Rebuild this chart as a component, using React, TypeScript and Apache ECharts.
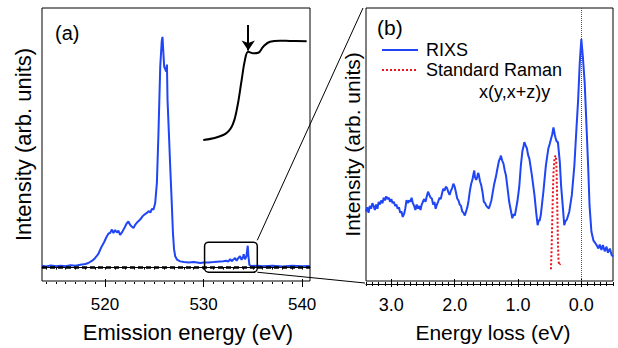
import React, { useEffect, useRef } from 'react';
import * as echarts from 'echarts';

// ---------- Panel (a): emission spectrum ----------
const emissionEnergy = [
  513.6, 514.0, 514.5, 515.0, 515.5, 516.0, 516.5, 517.0, 517.5, 518.0, 518.3, 518.7, 519.0, 519.3,
  519.66, 519.9, 520.17, 520.35, 520.51, 520.7, 520.85, 521.02, 521.2, 521.35, 521.53, 521.75, 522.0,
  522.2, 522.37, 522.55, 522.7, 522.88, 523.05, 523.3, 523.56, 523.8, 524.0, 524.24, 524.45, 524.6,
  524.75, 524.91, 525.09, 525.26, 525.42, 525.6, 525.75, 525.83, 525.92, 526.0, 526.1, 526.21, 526.28,
  526.34, 526.5, 526.61, 526.75, 526.89, 527.0, 527.12, 527.3, 527.63, 528.0, 528.5, 529.0, 529.66,
  530.0, 530.5, 531.0, 531.7, 532.0, 532.3, 532.5, 532.7, 532.85, 533.0, 533.2, 533.35, 533.5, 533.7,
  533.85, 534.0, 534.07, 534.2, 534.35, 534.48, 534.55, 534.65, 534.8, 535.5, 536.0, 537.0, 538.0,
  539.0, 540.0, 540.8,
];
const emissionIntensity = [
  0.008, 0.005, 0.009, 0.006, 0.008, 0.006, 0.01, 0.008, 0.012, 0.016, 0.02, 0.03, 0.042, 0.058,
  0.092, 0.11, 0.135, 0.148, 0.15, 0.165, 0.15, 0.163, 0.152, 0.16, 0.142, 0.155, 0.175,
  0.192, 0.2, 0.185, 0.178, 0.172, 0.185, 0.198, 0.208, 0.222, 0.23, 0.237, 0.245, 0.238,
  0.255, 0.251, 0.28, 0.367, 0.583, 0.871, 0.98, 1.0, 0.93, 0.871, 0.86, 0.85, 0.88,
  0.727, 0.56, 0.439, 0.3, 0.15, 0.08, 0.049, 0.035, 0.027, 0.024, 0.022, 0.024, 0.02,
  0.022, 0.022, 0.024, 0.027, 0.028, 0.03, 0.026, 0.037, 0.028, 0.034, 0.042, 0.03, 0.04, 0.05,
  0.034, 0.045, 0.058, 0.036, 0.05, 0.095, 0.05, 0.012, 0.007, 0.008, 0.006, 0.008, 0.005,
  0.008, 0.006, 0.007,
];
const emissionTickLabels = [520, 530, 540];
const emissionMinorTicks = [
  514, 515, 516, 517, 518, 519, 520, 521, 522, 523, 524, 525, 526, 527, 528, 529, 530, 531, 532, 533,
  534, 535, 536, 537, 538, 539, 540,
];
const baselineLevel = -0.004;
const zoomBoxEnergy = [530.1, 535.45];
const zoomBoxIntensity = [-0.02, 0.11];

// ---------- Inset: absorption edge ----------
const xasEnergy = [528.03, 530.34, 531.31, 531.89, 532.46, 532.84, 533.22, 533.8, 534.38, 534.95, 535.73, 536.88, 538.03, 539.96];
const xasIntensity = [0.05, 0.1, 0.183, 0.35, 0.65, 0.85, 0.933, 0.917, 0.923, 0.983, 1.033, 1.043, 1.04, 1.037];
const arrowEnergy = 533.22;
const arrowRange = [1.2, 0.945];

// ---------- Panel (b): RIXS ----------
const lossEnergy = [
  3.4, 3.38, 3.36, 3.34, 3.32, 3.3, 3.28, 3.26, 3.24, 3.22, 3.2, 3.18, 3.16, 3.14, 3.12, 3.1, 3.08,
  3.06, 3.04, 3.02, 3.0, 2.98, 2.96, 2.94, 2.92, 2.9, 2.88, 2.86, 2.84, 2.82, 2.8, 2.78, 2.76, 2.74,
  2.72, 2.7, 2.68, 2.66, 2.64, 2.62, 2.6, 2.58, 2.56, 2.54, 2.52, 2.5, 2.48, 2.46, 2.44, 2.42, 2.4,
  2.38, 2.36, 2.34, 2.32, 2.3, 2.28, 2.26, 2.24, 2.22, 2.2, 2.18, 2.16, 2.14, 2.12, 2.1, 2.08, 2.06,
  2.04, 2.02, 2.0, 1.98, 1.96, 1.94, 1.92, 1.9, 1.88, 1.86, 1.84, 1.82, 1.8, 1.78, 1.76, 1.74, 1.72,
  1.7, 1.69, 1.68, 1.66, 1.645, 1.63, 1.62, 1.6, 1.58, 1.56, 1.54, 1.52, 1.5, 1.48, 1.46, 1.44, 1.42,
  1.38, 1.35, 1.33, 1.3, 1.28, 1.27, 1.25, 1.23, 1.21, 1.19, 1.16, 1.14, 1.11, 1.09, 1.07, 1.05,
  1.01, 0.98, 0.955, 0.93, 0.91, 0.9, 0.88, 0.86, 0.84, 0.82, 0.78, 0.74, 0.71, 0.69, 0.67, 0.66, 0.64,
  0.6, 0.56, 0.52, 0.5, 0.48, 0.46, 0.44, 0.42, 0.41, 0.39, 0.37, 0.34, 0.32, 0.29, 0.27, 0.25, 0.23,
  0.19, 0.15, 0.11, 0.08, 0.05, 0.025, 0.0, -0.025, -0.053, -0.08, -0.107, -0.13, -0.159, -0.19,
  -0.22, -0.24, -0.27, -0.29, -0.318, -0.34, -0.37, -0.398, -0.42, -0.45, -0.478, -0.5,
];
const rixsIntensity = [
  26.0, 27.5, 25.5, 28.0, 27.0, 29.0, 28.0, 26.5, 28.5, 27.0, 29.5, 28.5, 30.0, 29.0, 31.0, 30.0, 31.5,
  30.5, 31.0, 29.5, 30.5, 29.0, 29.5, 28.0, 28.5, 27.0, 27.5, 25.5, 26.0, 24.0, 25.0, 27.0, 30.1, 29.0,
  30.0, 29.5, 31.0, 29.0, 28.0, 26.5, 28.5, 27.0, 28.0, 26.5, 28.5, 29.6, 30.5, 29.5, 31.5, 33.2, 32.0,
  31.0, 30.7, 28.5, 29.5, 27.0, 28.5, 29.6, 31.0, 30.5, 32.5, 34.3, 33.5, 35.0, 34.5, 33.0, 32.0, 33.5,
  34.5, 36.1, 35.0, 33.0, 30.7, 30.0, 28.5, 28.0, 26.0, 25.5, 24.5, 26.0, 27.5, 30.0, 33.5, 36.0, 37.5,
  40.0, 40.9, 38.5, 37.5, 38.5, 40.0, 39.5, 37.0, 35.5, 33.0, 29.6, 29.0, 28.0, 27.5, 27.1, 28.5, 30.0,
  35.5, 38.5, 41.0, 44.5, 45.5, 46.3, 44.5, 43.5, 41.0, 39.1, 33.5, 29.6, 26.0, 23.5, 25.0, 24.5,
  29.6, 35.0, 42.7, 48.0, 50.0, 51.2, 50.0, 49.0, 46.5, 45.1, 39.0, 31.9, 25.0, 21.0, 23.0, 22.5, 24.7,
  33.0, 42.7, 49.0, 50.5, 52.3, 54.0, 56.6, 54.0, 53.0, 51.5, 51.2, 44.0, 35.5, 27.0, 21.0, 22.5, 23.0,
  25.9, 32.0, 42.7, 55.0, 66.8, 80.0, 88.7, 82.0, 72.8, 58.0, 42.7, 28.0, 18.7, 15.5,
  14.5, 13.8, 12.5, 14.0, 12.0, 13.8, 11.5, 13.2, 11.0, 12.5, 10.2, 9.6,
];
const ramanLoss = [0.48, 0.47, 0.46, 0.45, 0.44, 0.425, 0.41, 0.4, 0.39, 0.38, 0.37, 0.36, 0.35, 0.33, 0.32];
const ramanIntensity = [5.0, 12, 22, 32, 40, 45, 46.3, 46, 40, 28, 15, 8, 6.5, 7, 6.9];
const lossTickLabels = [0, 1, 2, 3];
const lossMinorTicks = [
  -0.5, -0.4, -0.3, -0.2, -0.1, 0, 0.1, 0.2, 0.3, 0.4, 0.5, 0.6, 0.7, 0.8, 0.9, 1.0, 1.1, 1.2, 1.3, 1.4,
  1.5, 1.6, 1.7, 1.8, 1.9, 2.0, 2.1, 2.2, 2.3, 2.4, 2.5, 2.6, 2.7, 2.8, 2.9, 3.0, 3.1, 3.2, 3.3, 3.4,
];

const BLUE = '#1f45f5';
const RED = '#e8141c';
const FONT = '"Liberation Sans", Arial, Helvetica, sans-serif';

const zip = (xs: number[], ys: number[]) => xs.map((x, i) => [x, ys[i]]);

const tickAxis = (
  gridIndex: number,
  range: { min: number; max: number; inverse?: boolean },
  values: number[],
  length: number,
  inside: boolean,
) => ({
  type: 'value',
  gridIndex,
  ...range,
  position: 'bottom',
  offset: 3,
  axisLine: { show: false },
  axisLabel: { show: false },
  splitLine: { show: false },
  axisTick: { show: true, inside, length, customValues: values, lineStyle: { color: '#000', width: 1 } },
});

export default function App() {
  const ref = useRef<HTMLDivElement>(null);

  useEffect(() => {
    if (!ref.current) return;
    const chart = echarts.init(ref.current, null, { renderer: 'svg' });
    const rangeA = { min: 513.6, max: 540.8 };
    const rangeB = { min: -0.5, max: 3.4, inverse: true };

    const option: any = {
      animation: false,
      textStyle: { fontFamily: FONT, color: '#000' },
      grid: [
        { left: 42, top: 8, width: 268, height: 274, show: true, borderColor: '#000', borderWidth: 1, backgroundColor: 'transparent' },
        { left: 366, top: 8, width: 247, height: 275, show: true, borderColor: '#000', borderWidth: 1, backgroundColor: 'transparent' },
        { left: 203, top: 20, width: 104, height: 125 },
      ],
      xAxis: [
        {
          type: 'value',
          gridIndex: 0,
          ...rangeA,
          position: 'bottom',
          offset: 3,
          axisLine: { show: true, lineStyle: { color: '#000', width: 1 } },
          axisTick: { show: true, length: 2, customValues: emissionMinorTicks, lineStyle: { color: '#000' } },
          axisLabel: { customValues: emissionTickLabels, fontSize: 17, color: '#000', margin: 12, fontFamily: FONT },
          splitLine: { show: false },
          name: 'Emission energy (eV)',
          nameLocation: 'middle',
          nameGap: 37,
          nameTextStyle: { fontSize: 22, color: '#000', fontFamily: FONT, padding: [0, 0, 0, 24] },
        },
        tickAxis(0, rangeA, emissionMinorTicks, 2, true),
        tickAxis(0, rangeA, emissionTickLabels, 3, false),
        tickAxis(0, rangeA, emissionTickLabels, 5, true),
        {
          type: 'value',
          gridIndex: 1,
          ...rangeB,
          position: 'bottom',
          offset: 3,
          axisLine: { show: true, lineStyle: { color: '#000', width: 1 } },
          axisTick: { show: true, length: 2, customValues: lossMinorTicks, lineStyle: { color: '#000' } },
          axisLabel: {
            customValues: lossTickLabels,
            fontSize: 18,
            color: '#000',
            margin: 12,
            fontFamily: FONT,
            formatter: (v: number) => v.toFixed(1),
          },
          splitLine: { show: false },
          name: 'Energy loss (eV)',
          nameLocation: 'middle',
          nameGap: 38,
          nameTextStyle: { fontSize: 21, color: '#000', fontFamily: FONT, padding: [0, 0, 0, 7] },
        },
        tickAxis(1, rangeB, lossMinorTicks, 2, true),
        tickAxis(1, rangeB, lossTickLabels, 3, false),
        tickAxis(1, rangeB, lossTickLabels, 5, true),
        { type: 'value', gridIndex: 2, min: 528, max: 540, show: false },
      ],
      yAxis: [
        {
          type: 'value',
          gridIndex: 0,
          min: -0.058,
          max: 1.125,
          axisLine: { show: false },
          axisTick: { show: false },
          axisLabel: { show: false },
          splitLine: { show: false },
          name: 'Intensity (arb. units)',
          nameLocation: 'middle',
          nameGap: 8,
          nameRotate: 90,
          nameTextStyle: { fontSize: 22, color: '#000', fontFamily: FONT },
        },
        {
          type: 'value',
          gridIndex: 1,
          min: 0.7,
          max: 100,
          axisLine: { show: false },
          axisTick: { show: false },
          axisLabel: { show: false },
          splitLine: { show: false },
          name: 'Intensity (arb. units)',
          nameLocation: 'middle',
          nameGap: 3,
          nameRotate: 90,
          nameTextStyle: { fontSize: 21, color: '#000', fontFamily: FONT },
        },
        { type: 'value', gridIndex: 2, min: 0, max: 1.25, show: false },
      ],
      legend: {
        left: 376,
        top: 35,
        orient: 'vertical',
        itemWidth: 36,
        itemHeight: 14,
        itemGap: 0,
        itemStyle: { opacity: 0 },
        textStyle: { fontSize: 18, lineHeight: 20, color: '#000', fontFamily: FONT, padding: [0, 0, 0, 3] },
        data: [
          { name: 'RIXS', itemStyle: { opacity: 0 } },
          { name: 'Standard Raman', itemStyle: { opacity: 0 } },
        ],
      },
      series: [
        {
          name: 'Emission',
          type: 'line',
          xAxisIndex: 0,
          yAxisIndex: 0,
          data: zip(emissionEnergy, emissionIntensity),
          symbol: 'none',
          lineStyle: { color: BLUE, width: 2 },
          itemStyle: { color: BLUE },
          markLine: {
            silent: true,
            symbol: ['none', 'none'],
            label: { show: false },
            lineStyle: { color: '#000', width: 2.5, type: [5, 3] },
            data: [{ yAxis: baselineLevel }],
          },
        },
        {
          name: 'XAS',
          type: 'line',
          xAxisIndex: 8,
          yAxisIndex: 2,
          data: zip(xasEnergy, xasIntensity),
          smooth: 0.4,
          symbol: 'none',
          lineStyle: { color: '#000', width: 2 },
          itemStyle: { color: '#000' },
          markLine: {
            silent: true,
            symbol: ['none', 'arrow'],
            symbolSize: 10,
            label: { show: false },
            lineStyle: { color: '#000', width: 2, type: 'solid' },
            data: [[{ coord: [arrowEnergy, arrowRange[0]] }, { coord: [arrowEnergy, arrowRange[1]] }]],
          },
        },
        {
          name: 'RIXS',
          type: 'line',
          xAxisIndex: 4,
          yAxisIndex: 1,
          data: zip(lossEnergy, rixsIntensity),
          symbol: 'none',
          lineStyle: { color: BLUE, width: 2 },
          itemStyle: { color: BLUE },
          z: 3,
          markLine: {
            silent: true,
            symbol: ['none', 'none'],
            label: { show: false },
            lineStyle: { color: '#555', width: 1, type: [1, 1] },
            data: [{ xAxis: 0 }],
          },
        },
        {
          name: 'Standard Raman',
          type: 'line',
          xAxisIndex: 4,
          yAxisIndex: 1,
          data: zip(ramanLoss, ramanIntensity),
          symbol: 'none',
          lineStyle: { color: RED, width: 2, type: 'dotted' },
          itemStyle: { color: RED },
          z: 4,
        },
      ],
    };
    chart.setOption(option);

    const boxTL = chart.convertToPixel({ xAxisIndex: 0, yAxisIndex: 0 }, [zoomBoxEnergy[0], zoomBoxIntensity[1]]) as number[];
    const boxBR = chart.convertToPixel({ xAxisIndex: 0, yAxisIndex: 0 }, [zoomBoxEnergy[1], zoomBoxIntensity[0]]) as number[];
    const bTop = chart.convertToPixel({ xAxisIndex: 4, yAxisIndex: 1 }, [3.4, 100]) as number[];
    const bBot = chart.convertToPixel({ xAxisIndex: 4, yAxisIndex: 1 }, [3.4, 0.7]) as number[];

    chart.setOption({
      graphic: [
        {
          type: 'rect',
          shape: { x: boxTL[0], y: boxTL[1], width: boxBR[0] - boxTL[0], height: boxBR[1] - boxTL[1], r: 4 },
          style: { fill: 'none', stroke: '#000', lineWidth: 1.5 },
          z: 10,
        },
        {
          type: 'line',
          shape: { x1: boxBR[0], y1: boxTL[1] - 2, x2: bTop[0] - 3, y2: bTop[1] },
          style: { stroke: '#000', lineWidth: 1 },
          z: 10,
        },
        {
          type: 'line',
          shape: { x1: boxBR[0], y1: boxBR[1], x2: bBot[0] - 1, y2: bBot[1] + 2 },
          style: { stroke: '#000', lineWidth: 1 },
          z: 10,
        },
        { type: 'text', left: 55, top: 23, style: { text: '(a)', fontSize: 20, fill: '#000', fontFamily: FONT }, z: 10 },
        { type: 'text', left: 377, top: 17, style: { text: '(b)', fontSize: 21, fill: '#000', fontFamily: FONT }, z: 10 },
        { type: 'text', left: 479, top: 83, style: { text: 'x(y,x+z)y', fontSize: 18, fill: '#000', fontFamily: FONT }, z: 10 },
      ],
    });

    return () => chart.dispose();
  }, []);

  return <div ref={ref} style={{ position: 'absolute', left: 0, top: 0, width: 618, height: 348 }} />;
}
